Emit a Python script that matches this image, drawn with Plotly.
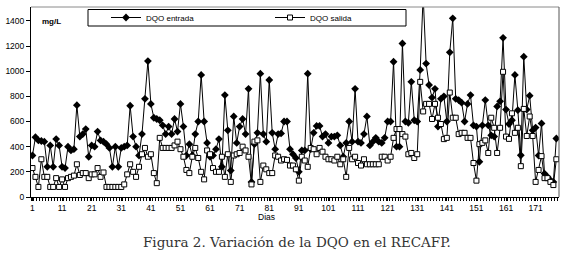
import plotly.graph_objects as go

dias = list(range(1, 179))

dqo_entrada = [
    330, 475, 450, 445, 440, 240, 410, 240, 460, 410,
    240, 230, 400, 370, 380, 730, 480, 500, 540, 320,
    410, 400, 520, 450, 440, 420, 390, 240, 400, 240,
    390, 400, 410, 725, 480, 400, 330, 500, 780, 1080,
    740, 630, 620, 610, 570, 500, 560, 500, 620, 520,
    740, 560, 330, 420, 330, 500, 600, 970, 600, 430,
    320, 330, 380, 460, 240, 810, 530, 210, 640, 430,
    560, 620, 500, 860, 120, 420, 510, 980, 500, 440,
    930, 510, 380, 500, 505, 600, 600, 380, 340, 310,
    200, 370, 370, 980, 380, 510, 565, 565, 480, 500,
    430, 480, 480, 490, 410, 320, 430, 600, 440, 860,
    440, 430, 500, 640, 410, 440, 470, 440, 430, 470,
    600, 600, 1075, 400, 400, 1220, 600, 590, 915, 610,
    600, 1010, 1600, 1060, 890, 790, 860, 560, 780, 800,
    600, 1150, 1420, 780, 770, 750, 600, 740, 810, 570,
    560, 280, 570, 770, 570, 490, 480, 720, 760, 1265,
    695, 580, 610, 970, 690, 332, 1115, 695, 805, 530,
    552, 330, 585, 186, 160, 133, 120, 465,
]

dqo_salida = [
    230, 160, 80, 300, 160, 160, 80, 80, 150, 80,
    140, 80, 150, 160, 170, 260, 175, 190, 190, 150,
    180, 180, 230, 160, 195, 80, 80, 80, 80, 80,
    80, 100, 180, 260, 200, 160, 240, 340, 390, 320,
    340, 190, 110, 470, 390, 390, 390, 390, 410, 440,
    380, 320, 215, 190, 320, 390, 310, 200, 140, 370,
    340, 230, 200, 200, 320, 160, 340, 120, 330, 340,
    350, 400, 370, 320, 100, 440, 450, 120, 250, 220,
    190, 190, 330, 320, 290, 300, 295, 250, 250, 220,
    130, 320, 290, 240, 390, 380, 340, 390, 360, 320,
    300, 300, 290, 320, 260, 300, 160, 390, 300, 320,
    270, 250, 300, 260, 260, 260, 260, 260, 320, 320,
    290, 320, 470, 540, 540, 500, 480, 340, 350, 310,
    340, 915, 680, 740, 740, 620, 740, 630, 580, 460,
    470, 830, 630, 630, 500, 510, 510, 470, 470, 270,
    130, 420, 430, 450, 350, 630, 550, 350, 550, 995,
    480, 462, 665, 510, 550, 245, 700, 485, 640, 485,
    120, 215, 325, 150, 150, 120, 95, 300,
]

x_ticks_start = 1
x_ticks_step = 10
y_ticks_step = 200

# pixel geometry helpers
W, H = 562, 255
ML, MR, MT, MB = 31, 3, 7, 58
PW, PH = W - ML - MR, H - MT - MB


def px(xpix):
    return (xpix - ML) / PW


def py(ypix):
    return 1 - (ypix - MT) / PH


fig = go.Figure()
fig.add_trace(go.Scatter(
    x=dias, y=dqo_entrada, mode="lines+markers", name="DQO entrada",
    line=dict(color="black", width=1),
    marker=dict(symbol="diamond", size=6, color="black"),
))
fig.add_trace(go.Scatter(
    x=dias, y=dqo_salida, mode="lines+markers", name="DQO salida",
    line=dict(color="black", width=1),
    marker=dict(symbol="square", size=5, color="white",
                line=dict(color="black", width=1)),
))

axis_font = dict(family="Liberation Sans, Arial, sans-serif", size=8.5, color="black")

fig.update_layout(
    width=W, height=H,
    margin=dict(l=ML, r=MR, t=MT, b=MB),
    paper_bgcolor="white", plot_bgcolor="white",
    showlegend=True,
    legend=dict(
        orientation="h", x=px(106), xanchor="left", y=py(17.5), yanchor="middle",
        bgcolor="rgba(0,0,0,0)", borderwidth=0,
        font=dict(family="Liberation Sans, Arial, sans-serif", size=8, color="black"),
        entrywidth=119, entrywidthmode="pixels",
        itemwidth=30,
    ),
    xaxis=dict(
        range=[0.5, 178.9], tickmode="linear", tick0=x_ticks_start, dtick=x_ticks_step,
        showgrid=False, zeroline=False, showline=True, linecolor="black", linewidth=1,
        ticks="outside", ticklen=3, tickcolor="black", tickfont=axis_font,
        minor=dict(tickmode="linear", tick0=0.5, dtick=1, ticks="outside",
                   ticklen=3, tickcolor="black", showgrid=False),
    ),
    yaxis=dict(
        range=[0, 1510], tickmode="linear", tick0=0, dtick=y_ticks_step,
        showgrid=False, zeroline=False, showline=True, linecolor="black", linewidth=1,
        ticks="outside", ticklen=4, tickcolor="black", tickfont=axis_font,
    ),
    shapes=[
        dict(type="line", xref="paper", yref="paper", x0=0, x1=1, y0=1, y1=1,
             line=dict(color="#8a8a8a", width=1)),
        dict(type="line", xref="paper", yref="paper", x0=1, x1=1, y0=0, y1=1,
             line=dict(color="#555555", width=1)),
        dict(type="rect", xref="paper", yref="paper", x0=px(88), x1=px(406),
             y0=py(26), y1=py(9.5), line=dict(color="black", width=1)),
    ],
    annotations=[
        dict(text="<b>mg/L</b>", xref="paper", yref="paper", x=px(40), y=py(21),
             xanchor="left", yanchor="middle", showarrow=False,
             font=dict(family="Liberation Sans, Arial, sans-serif", size=8, color="black")),
        dict(text="Dias", xref="paper", yref="paper", x=px(266), y=py(217),
             xanchor="center", yanchor="middle", showarrow=False,
             font=dict(family="Liberation Sans, Arial, sans-serif", size=8.5, color="black")),
        dict(text="Figura 2. Variación de la DQO en el RECAFP.", xref="paper", yref="paper",
             x=px(297), y=py(242), xanchor="center", yanchor="middle", showarrow=False,
             font=dict(family="DejaVu Serif, serif", size=13.5, color="#333333")),
    ],
)

fig.write_html(
    "out.html",
    config={"displayModeBar": False},
    post_script="document.body.style.margin='0';document.body.style.overflow='hidden';",
)
